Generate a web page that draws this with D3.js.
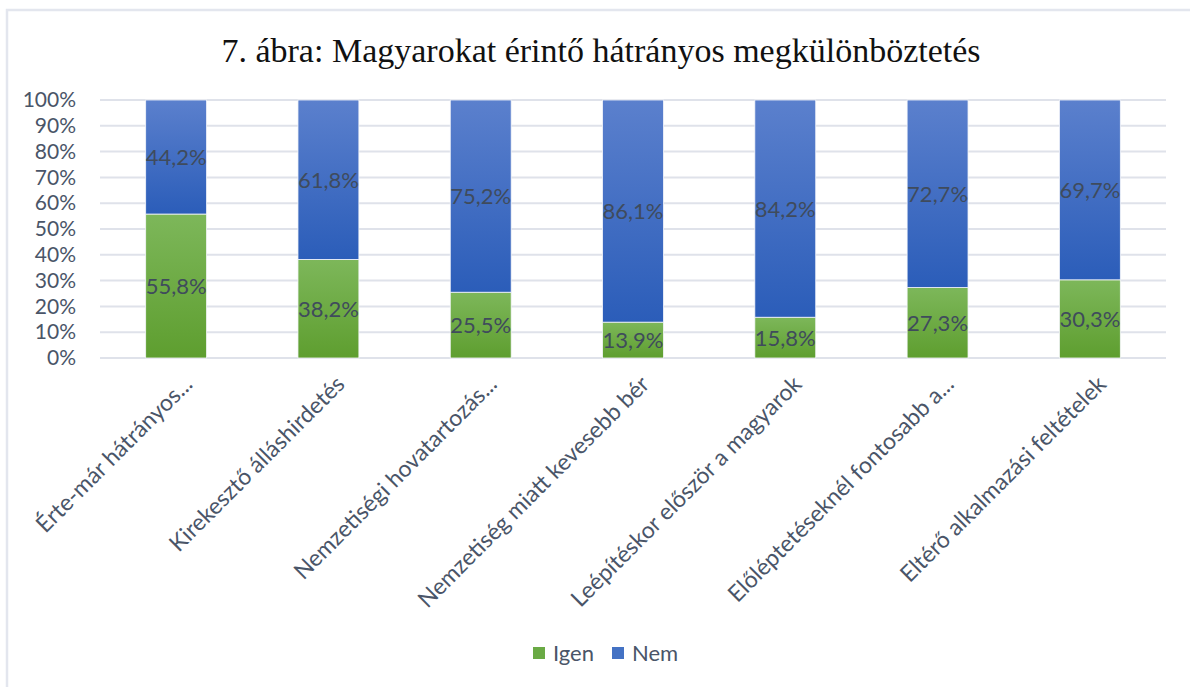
<!DOCTYPE html>
<html>
<head>
<meta charset="utf-8">
<script src="https://cdn.jsdelivr.net/npm/d3@7"></script>
<style>
	body { margin: 0; background: #fff; }
	svg { display: block; }
</style>
</head>
<body>
<div id="chart"></div>
<script>
// chart data
var categories = [
	'Érte-már hátrányos...',
	'Kirekesztő álláshirdetés',
	'Nemzetiségi hovatartozás...',
	'Nemzetiség miatt kevesebb bér',
	'Leépítéskor először a magyarok',
	'Előléptetéseknél fontosabb a...',
	'Eltérő alkalmazási feltételek'
];
var igen = [55.8, 38.2, 25.5, 13.9, 15.8, 27.3, 30.3];
var nem = [44.2, 61.8, 74.5, 86.1, 84.2, 72.7, 69.7];
var nemLabels = ['44,2%', '61,8%', '75,2%', '86,1%', '84,2%', '72,7%', '69,7%'];
var seriesNames = ['Igen', 'Nem'];
var yTicks = [0, 10, 20, 30, 40, 50, 60, 70, 80, 90, 100];

var width = 1190, height = 687;
var margin = { top: 100, right: 24, bottom: 329, left: 100 };
var labelColor = '#4a5568';
var sans = 'Lato, "Open Sans", sans-serif';

var svg = d3.select('#chart')
	.append('svg')
	.attr('width', width)
	.attr('height', height);

//gradients for the bar fills
var defs = svg.append('defs');
function gradient(id, top, bottom) {
	var g = defs.append('linearGradient')
		.attr('id', id)
		.attr('x1', 0).attr('y1', 0)
		.attr('x2', 0).attr('y2', 1);
	g.append('stop').attr('offset', '0%').attr('stop-color', top);
	g.append('stop').attr('offset', '100%').attr('stop-color', bottom);
}
gradient('gIgen', '#7db75a', '#5e9e2f');
gradient('gNem', '#5b80cd', '#2b5db9');

//frame
svg.append('path')
	.attr('d', 'M7,' + height + 'V10H' + width)
	.attr('fill', 'none')
	.attr('stroke', '#e3e6ee')
	.attr('stroke-width', 2.5);

//title
svg.append('text')
	.attr('x', 601)
	.attr('y', 62)
	.attr('text-anchor', 'middle')
	.style('font-family', '"Liberation Serif", "DejaVu Serif", serif')
	.style('font-size', '34px')
	.style('fill', '#111')
	.text('7. ábra: Magyarokat érintő hátrányos megkülönböztetés');

var x = d3.scaleBand()
	.domain(categories)
	.range([margin.left, width - margin.right])
	.paddingInner(0.6)
	.paddingOuter(0.3);

var y = d3.scaleLinear()
	.domain([0, 100])
	.range([height - margin.bottom, margin.top]);

//gridlines
svg.append('g')
	.selectAll('line')
	.data(yTicks)
	.enter()
	.append('line')
	.attr('x1', margin.left)
	.attr('x2', width - margin.right)
	.attr('y1', function (d) { return y(d); })
	.attr('y2', function (d) { return y(d); })
	.attr('stroke', '#dfe2ea')
	.attr('stroke-width', 2);

//y axis
var yAxis = svg.append('g')
	.attr('transform', 'translate(' + (margin.left - 21) + ',0)')
	.call(d3.axisLeft(y).tickValues(yTicks).tickSize(0).tickFormat(function (d) { return d + '%'; }));
yAxis.select('.domain').remove();
yAxis.selectAll('text')
	.style('font-family', sans)
	.style('font-size', '21px')
	.style('fill', labelColor);

//stack
var rows = categories.map(function (c, i) {
	return { cat: c, Igen: igen[i], Nem: nem[i], nemLabel: nemLabels[i] };
});
var stack = d3.stack().keys(seriesNames)(rows);
var fills = { Igen: 'url(#gIgen)', Nem: 'url(#gNem)' };

var layers = svg.selectAll('g.layer')
	.data(stack)
	.enter()
	.append('g')
	.attr('class', 'layer');

layers.selectAll('rect')
	.data(function (d) { return d.map(function (p) { p.key = d.key; return p; }); })
	.enter()
	.append('rect')
	.attr('x', function (d) { return x(d.data.cat); })
	.attr('width', x.bandwidth())
	.attr('y', function (d) { return y(d[1]); })
	.attr('height', function (d) { return y(d[0]) - y(d[1]); })
	.attr('fill', function (d) { return fills[d.key]; })
	.attr('stroke', '#f4f6fa')
	.attr('stroke-width', 0.8);

//data labels
layers.selectAll('text')
	.data(function (d) { return d; })
	.enter()
	.append('text')
	.attr('x', function (d) { return x(d.data.cat) + x.bandwidth() / 2; })
	.attr('y', function (d) { return (y(d[0]) + y(d[1])) / 2; })
	.attr('dy', '0.36em')
	.attr('text-anchor', 'middle')
	.style('font-family', sans)
	.style('font-size', '22px')
	.style('fill', '#3f4b5c')
	.text(function (d) {
		if (d.key === 'Nem') return d.data.nemLabel;
		return d3.format('.1f')(d.data.Igen).replace('.', ',') + '%';
	});

//x labels, rotated
svg.append('g')
	.selectAll('text')
	.data(categories)
	.enter()
	.append('text')
	.attr('transform', function (d) {
		return 'translate(' + (x(d) + x.bandwidth() / 2 + 12) + ',' + (height - margin.bottom + 22) + ') rotate(-45)';
	})
	.attr('text-anchor', 'end')
	.attr('dy', '0.35em')
	.style('font-family', sans)
	.style('font-size', '23px')
	.style('fill', labelColor)
	.text(function (d) { return d; });

//legend
var legend = svg.append('g')
	.attr('transform', 'translate(533,653)');
var item = legend.selectAll('g')
	.data(seriesNames)
	.enter()
	.append('g')
	.attr('transform', function (d, i) { return 'translate(' + (i * 79) + ',0)'; });
item.append('rect')
	.attr('x', 0).attr('y', -6)
	.attr('width', 12).attr('height', 12)
	.attr('fill', function (d) { return d === 'Igen' ? '#6aaa45' : '#4472c4'; });
item.append('text')
	.attr('x', 20)
	.attr('dy', '0.35em')
	.style('font-family', sans)
	.style('font-size', '22px')
	.style('fill', labelColor)
	.text(function (d) { return d; });
</script>
</body>
</html>
